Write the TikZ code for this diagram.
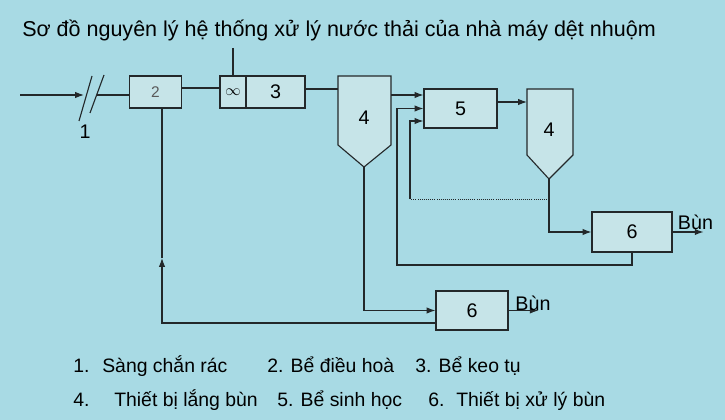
\documentclass[tikz,border=0pt]{standalone}
\usepackage{fontspec}
\setmainfont{Liberation Sans}
\usetikzlibrary{arrows.meta}
\definecolor{water}{RGB}{168,218,228}
\definecolor{boxfill}{RGB}{198,228,232}
\definecolor{ink}{RGB}{35,40,42}
\tikzset{
	pipe/.style={draw=ink,line width=0.8pt},
	flow/.style={pipe,-{Latex[length=2.2mm,width=1.6mm]}},
	unit/.style={pipe,fill=boxfill,inner sep=0pt,font=\fontsize{14}{16}\selectfont},
	tank/.style={pipe,fill=boxfill},
	tag/.style={inner sep=0pt,font=\fontsize{14}{16}\selectfont},
	legend/.style={anchor=base west,inner sep=0pt,font=\fontsize{13.8}{16}\selectfont},
}
\begin{document}
\begin{tikzpicture}[x=0.025cm,y=-0.025cm]
		\fill[water] (0,0) rectangle (725,420);
		\useasboundingbox (0,0) rectangle (725,420);
		\node[tag,anchor=base west,font=\fontsize{15.3}{17}\selectfont] (title) at (22,37) {Sơ đồ nguyên lý hệ thống xử lý nước thải của nhà máy dệt nhuộm};
		% screen, equaliser, coagulation
		\node[unit,minimum width=1.3cm,minimum height=0.8cm,text=gray!70!black,font=\fontsize{11}{13}\selectfont] (b2) at (155.5,92) {2};
		\node[unit,minimum width=0.65cm,minimum height=0.8cm,font=\fontsize{11}{13}\selectfont] (mix) at (233,92) {$\infty$};
		\node[unit,minimum width=1.475cm,minimum height=0.8cm] (b3) at (275.5,92) {3};
		\coordinate (in) at (20,95);
		\coordinate (s1) at (84,95);
		\coordinate (s2) at (97,95);
		\coordinate (feed) at (233,48);
		\draw[flow] (in) -- (s1);
		\draw[pipe] (79,121) -- (92,76);
		\draw[pipe] (90,113) -- (104,75);
		\node[tag] (n1) at (85,132) {1};
		\draw[pipe] (s2) -- (s2 -| b2.west);
		\draw[pipe] (b2.east |- 0,88) -- (mix.west |- 0,88);
		\draw[pipe] (feed) -- (mix.north);
		% settling tanks
		\draw[tank] (338,76) -- (391,76) -- (391,145) -- (364,167) -- (338,145) -- cycle;
		\draw[tank] (527,89) -- (573,89) -- (573,155) -- (549,179) -- (527,155) -- cycle;
		\node[tag] (t4a) at (364,118) {4};
		\node[tag] (t4b) at (549,130) {4};
		\coordinate (t1in) at (338,89);
		\coordinate (t1out) at (391,95);
		\coordinate (t1) at (364,167);
		\coordinate (t2in) at (527,102);
		\coordinate (t2) at (549,179);
		% biological tank and sludge units
		\node[unit,minimum width=1.825cm,minimum height=0.975cm] (b5) at (460.5,108.5) {5};
		\node[unit,minimum width=2cm,minimum height=1cm] (b6a) at (632,232) {6};
		\node[unit,minimum width=1.8cm,minimum height=0.975cm] (b6b) at (472,310.5) {6};
		\draw[pipe] (b3.east |- t1in) -- (t1in);
		\draw[flow] (t1out) -- (t1out -| b5.west);
		\draw[flow] (b5.east |- t2in) -- (t2in);
		\draw[flow] (t2) |- (b6a.west);
		\coordinate (r1) at (549,199);
		\coordinate (r2) at (410,199);
		\draw[draw=ink,densely dotted,line width=0.5pt] (r1) -- (r2);
		\draw[flow] (r2) -- (410,121) -- (b5.west |- 0,121);
		\coordinate (r3) at (397,265);
		\draw[flow] (b6a.south) |- (r3) |- (b5.west);
		\draw[flow] (b6a.east) -- ++(31,0) coordinate (out1);
		\node[tag,anchor=base] (bun1) at (695.5,230) {Bùn};
		\draw[flow] (t1) |- (b6b.west);
		\draw[flow] (b6b.east) -- ++(30,0) coordinate (out2);
		\node[tag,anchor=base] (bun2) at (533,310) {Bùn};
		\coordinate (r4) at (162,323);
		\draw[flow] (b6b.west |- r4) -- (r4) -- (162,258);
		\draw[pipe] (162,258) -- (b2.south -| r4);
		% legend
		\node[legend] (l1) at (73,372) {1.};
		\node[legend] (l1t) at (102,372) {Sàng chắn rác};
		\node[legend] (l2) at (267,372) {2. Bể điều hoà};
		\node[legend] (l3) at (415,372) {3. Bể keo tụ};
		\node[legend] (l4) at (73,406) {4.};
		\node[legend] (l4t) at (114,406) {Thiết bị lắng bùn};
		\node[legend] (l5) at (277,406) {5. Bể sinh học};
		\node[legend] (l6) at (428,406) {6.};
		\node[legend] (l6t) at (456,406) {Thiết bị xử lý bùn};
\end{tikzpicture}
\end{document}
